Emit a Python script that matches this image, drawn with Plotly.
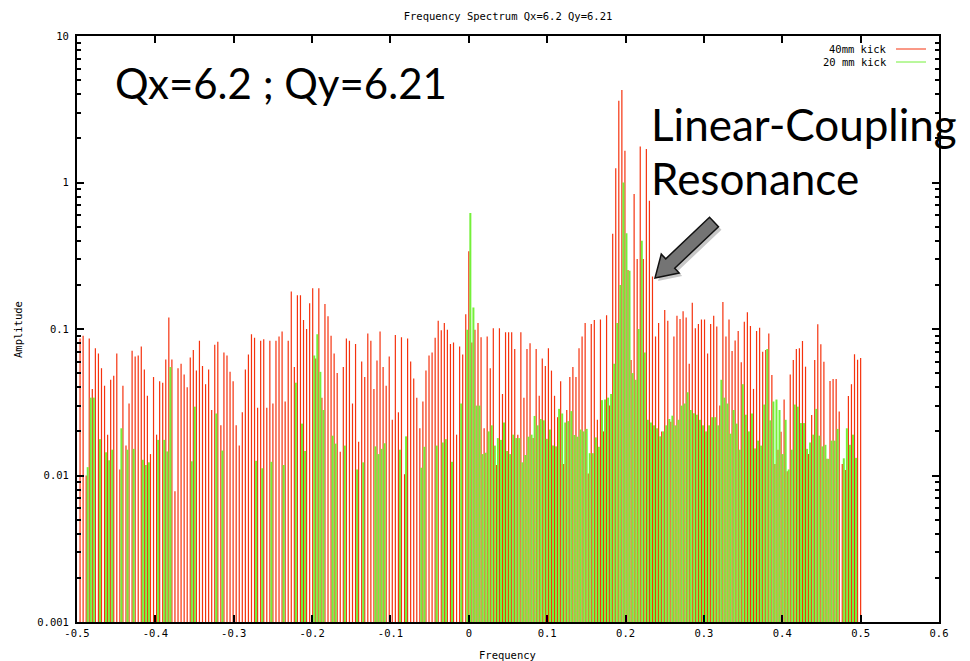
import numpy as np
import plotly.graph_objects as go

# ---- spectrum data: 256-turn FFT, bin width 1/256 ----
BIN = 1.0 / 256

# 40 mm kick, bins -128 .. 128
red_neg = [None, 0.086, 0.090, 0.010, 0.086, 0.039, 0.074, 0.068, 0.054, 0.041, 0.019, 0.045, 0.048, 0.068,
           0.011, 0.041, 0.016, 0.031, 0.071, 0.065, 0.066, 0.076, 0.053, 0.035, 0.014, 0.047, 0.019, 0.044,
           0.043, 0.062, 0.12, 0.062, 0.0078, 0.054, 0.058, 0.049, 0.040, 0.064, 0.072, 0.052, 0.083, 0.056,
           0.042,
           0.053, 0.028, 0.078, 0.082, 0.022, 0.069, 0.066, 0.051, 0.044, 0.022, 0.016, 0.027, 0.053, 0.067,
           0.092, 0.087, 0.029, 0.083, 0.085, 0.029, 0.083, 0.031, 0.083, 0.089, 0.096, 0.032, 0.083, 0.18,
           0.055, 0.17, 0.17, 0.115, 0.10, 0.15, 0.19, 0.063, 0.19, 0.034, 0.148, 0.122, 0.090, 0.068, 0.050,
           0.0145, 0.055, 0.086, 0.083, 0.031, 0.079, 0.017, 0.060, 0.047, 0.093, 0.083, 0.039, 0.061, 0.096,
           0.055, 0.041, 0.065, 0.024, 0.091, 0.027, 0.088, 0.0102, 0.086, 0.060, 0.046, 0.034, 0.021, 0.032,
           0.052, 0.066, 0.069, 0.087, 0.114, 0.098, 0.110, 0.099, 0.079, 0.081, 0.019, 0.076, 0.067, 0.126]
red_zero = [0.34]
red_pos = [0.081, 0.099, 0.110, 0.088, 0.021, 0.089, 0.054, 0.101, 0.0118, 0.101, 0.036, 0.095, 0.095, 0.095,
           0.073, 0.019, 0.095, 0.034, 0.073, 0.080, 0.018, 0.073, 0.035, 0.063, 0.056, 0.074, 0.052, 0.035,
           0.025, 0.044, 0.012, 0.028, 0.047, 0.055, 0.047, 0.074, 0.089, 0.110, 0.0103, 0.108, 0.115, 0.024,
           0.116, 0.020, 0.124, 0.030, 0.446, 1.25, 3.62, 4.28, 1.65, 0.253, 0.0615, 0.835, 0.30, 1.76, 0.30,
           1.69, 0.75, 0.228, 0.089, 0.110, 0.020, 0.135, 0.114, 0.0233, 0.089, 0.123, 0.117, 0.132, 0.120,
           0.058, 0.151, 0.101, 0.108, 0.116, 0.116, 0.068, 0.108, 0.123, 0.104, 0.030, 0.153, 0.089, 0.116,
           0.0708, 0.0834, 0.097, 0.0593, 0.112, 0.130, 0.105, 0.039, 0.097, 0.102, 0.070, 0.072, 0.093,
           0.0485, 0.012, 0.015, 0.0199, 0.033, 0.0107, 0.049, 0.0615, 0.073, 0.074, 0.0828, 0.0553, 0.014,
           0.0259, 0.0615, 0.1076, 0.0787, 0.0598, 0.013, 0.0442, 0.0455, 0.0455, 0.0273, 0.012, 0.0109,
           0.0349, 0.042, 0.0672, 0.0617, 0.0635]
red_amp = red_neg + red_zero + red_pos

# 20 mm kick, bins -128 .. 127 (sampled half a bin later); None = below the plotted floor
green_neg = [None, None, None, 0.0114, 0.034, 0.034, None, 0.0177, None, 0.0144, 0.0127, 0.015, None, None,
             0.021, None, 0.015, None, 0.0152, None, None, 0.0128, 0.0118, 0.0123, None, None, 0.0175, None,
             0.0175, 0.0146, 0.055, None, None, None, None, None, None, 0.0125, 0.0295, None, None, None,
             None, None, None, 0.0265, None, 0.0148, None, None, None, None, None, None, None, None, None,
             None, 0.0126, None, 0.0112, None, None, 0.0124, None, None, None, 0.0118, None, None, None,
             0.043, None, 0.0226, 0.0147, None, None, 0.066, 0.092, 0.051, 0.028, None, None, 0.0187, 0.0165,
             None, None, 0.016, None, None, None, 0.011, None, 0.0123, None, None, None, 0.0158, 0.014,
             0.0152, 0.0166, None, None, None, None, 0.015, None, 0.0185, None, None, None, None, 0.0113,
             0.0157, None, None, None, 0.016, None, 0.0168, 0.0177, None, 0.0124, None, None, 0.031, None,
             0.099]
green_pos = [0.62, 0.14, 0.030, 0.030, 0.014, 0.0143, 0.020, 0.022, 0.016, 0.018, 0.0175, 0.023, 0.0147, 0.014,
             0.019, 0.018, 0.018, 0.0123, 0.0138, 0.0184, 0.019, 0.0255, 0.022, 0.0243, 0.0238, 0.0178, 0.0206,
             0.016, 0.0158, 0.0285, 0.0265, 0.023, 0.0235, 0.0275, 0.0189, 0.0184, 0.0206, 0.020, 0.0208,
             0.0142, 0.0142, 0.0182, 0.0157, 0.0327, 0.033, 0.034, 0.036, 0.058, 0.11, 0.20, 1.0, 0.45, 0.25,
             0.05, 0.045, 0.10, 0.40, 0.069, 0.024, 0.023, 0.022, 0.021, 0.0185, 0.020, 0.022, 0.0243, 0.0256,
             0.022, 0.024, 0.030, 0.031, 0.037, 0.028, 0.0266, 0.026, 0.024, 0.022, 0.020, 0.022, 0.025, 0.025,
             0.022, 0.045, 0.034, 0.031,
             0.0193, 0.028, 0.0226, 0.015, 0.042, 0.026, 0.020, 0.0265, 0.0153, 0.0173, 0.016, 0.0305, 0.073,
             0.0238, 0.032, 0.033, 0.028, 0.014, 0.024, 0.011, 0.015, 0.0305, 0.0295, 0.0228, 0.0228, 0.0152,
             0.0168, 0.019, 0.0285, 0.0187, 0.0158, 0.0162, 0.013, 0.0173, 0.0173, 0.0208, None, 0.0131, 0.021,
             0.0162, 0.019, 0.0132, None]
green_amp = green_neg + green_pos

red_freq = np.arange(-128, 129) * BIN
green_freq = (np.arange(-128, 128) + 0.5) * BIN

x_ticks = [-0.5, -0.4, -0.3, -0.2, -0.1, 0.0, 0.1, 0.2, 0.3, 0.4, 0.5, 0.6]
x_labels = ["-0.5", "-0.4", "-0.3", "-0.2", "-0.1", "0", "0.1", "0.2", "0.3", "0.4", "0.5", "0.6"]
y_ticks = [0.001, 0.01, 0.1, 1, 10]
y_labels = ["0.001", "0.01", "0.1", "1", "10"]
y_minor = [m * 10.0 ** e for e in range(-3, 1) for m in range(2, 10)]

FLOOR = 1e-3
RED = "#f5320e"
GREEN = "#74f03a"
MONO = "DejaVu Sans Mono"
BIG = "Lato"


def impulses(freq, amp):
    """Vertical sticks from the plot floor up to each amplitude (gnuplot 'with impulses')."""
    xs, ys = [], []
    for f, a in zip(freq, amp):
        if a is None:
            continue
        xs += [float(f), float(f), None]
        ys += [FLOOR, a, None]
    return xs, ys


gx, gy = impulses(green_freq, green_amp)
rx, ry = impulses(red_freq, red_amp)

fig = go.Figure()
fig.add_trace(go.Scatter(x=rx, y=ry, mode="lines", line=dict(color=RED, width=1.2),
                         name="40mm kick", showlegend=False, hoverinfo="skip"))
fig.add_trace(go.Scatter(x=gx, y=gy, mode="lines", line=dict(color=GREEN, width=2.0),
                         name="20 mm kick", showlegend=False, hoverinfo="skip"))

W, H = 970, 661
L, R, T, B = 77, 31, 36, 39
PW, PH = W - L - R, H - T - B


def px(x):
    return (x - L) / PW


def py(y):
    return (H - B - y) / PH


# block arrow pointing at the coupling line
tip = np.array([655.0, 278.0])
tail = np.array([714.0, 222.0])
u = (tail - tip) / np.linalg.norm(tail - tip)
n = np.array([u[1], -u[0]])
half_shaft, half_head, head_len = 6.5, 13.0, 21.0
hb = tip + head_len * u
poly = [tip, hb - half_head * n, hb - half_shaft * n, tail - half_shaft * n,
        tail + half_shaft * n, hb + half_shaft * n, hb + half_head * n]


def path_of(points, dx=0.0, dy=0.0):
    parts = []
    for i, p in enumerate(points):
        parts.append(("M" if i == 0 else "L") + f"{px(p[0] + dx):.5f},{py(p[1] + dy):.5f}")
    return " ".join(parts) + " Z"


shapes = [
    dict(type="path", xref="paper", yref="paper", path=path_of(poly, 3, 3),
         fillcolor="rgba(0,0,0,0.22)", line=dict(width=0), layer="above"),
    dict(type="path", xref="paper", yref="paper", path=path_of(poly),
         fillcolor="#747474", line=dict(color="#111111", width=1.5), layer="above"),
    # key samples
    dict(type="line", xref="paper", yref="paper", x0=px(896), x1=px(926), y0=py(49), y1=py(49),
         line=dict(color=RED, width=1)),
    dict(type="line", xref="paper", yref="paper", x0=px(896), x1=px(926), y0=py(62), y1=py(62),
         line=dict(color=GREEN, width=1)),
]

annotations = [
    dict(text="40mm kick", x=px(889), y=py(49), xref="paper", yref="paper", xanchor="right",
         yanchor="middle", showarrow=False, font=dict(family=MONO, size=10.5, color="#000")),
    dict(text="20 mm kick", x=px(889), y=py(62), xref="paper", yref="paper", xanchor="right",
         yanchor="middle", showarrow=False, font=dict(family=MONO, size=10.5, color="#000")),
    dict(text="Amplitude", x=px(18), y=py(330), xref="paper", yref="paper", textangle=-90,
         xanchor="center", yanchor="middle", showarrow=False,
         font=dict(family=MONO, size=10.5, color="#000")),
    dict(text="Frequency", x=px(507), y=py(655), xref="paper", yref="paper",
         xanchor="center", yanchor="middle", showarrow=False,
         font=dict(family=MONO, size=10.5, color="#000")),
    dict(text="Qx=6.2 ; Qy=6.21", x=px(113), y=py(83), xref="paper", yref="paper",
         xanchor="left", yanchor="middle", showarrow=False,
         font=dict(family=BIG, size=42, color="#000")),
    dict(text="Linear-Coupling", x=px(649), y=py(124), xref="paper", yref="paper",
         xanchor="left", yanchor="middle", showarrow=False,
         font=dict(family=BIG, size=44, color="#000")),
    dict(text="Resonance", x=px(649), y=py(178), xref="paper", yref="paper",
         xanchor="left", yanchor="middle", showarrow=False,
         font=dict(family=BIG, size=44, color="#000")),
]

axis_common = dict(showline=True, linecolor="#000", linewidth=2, mirror="allticks",
                   ticks="inside", ticklen=7, tickwidth=2, tickcolor="#000",
                   showgrid=False, zeroline=False,
                   tickfont=dict(family=MONO, size=10.5, color="#000"))

fig.update_layout(
    width=W, height=H,
    margin=dict(l=L, r=R, t=T, b=B, autoexpand=False),
    paper_bgcolor="white", plot_bgcolor="white",
    title=dict(text="Frequency Spectrum Qx=6.2 Qy=6.21", x=px(508), xref="paper", xanchor="center",
               y=1 - 16 / H, yanchor="middle", font=dict(family=MONO, size=10.5, color="#000")),
    xaxis=dict(range=[-0.5, 0.6], tickmode="array", tickvals=x_ticks, ticktext=x_labels,
               **axis_common),
    yaxis=dict(type="log", range=[-3, 1], tickmode="array", tickvals=y_ticks, ticktext=y_labels,
               ticklabelstandoff=4,
               minor=dict(ticks="inside", ticklen=4, tickwidth=1.5, tickcolor="#000",
                          tickmode="array", tickvals=y_minor, showgrid=False),
               **axis_common),
    shapes=shapes,
    annotations=annotations,
    showlegend=False,
)

fig.write_html("out.html")
